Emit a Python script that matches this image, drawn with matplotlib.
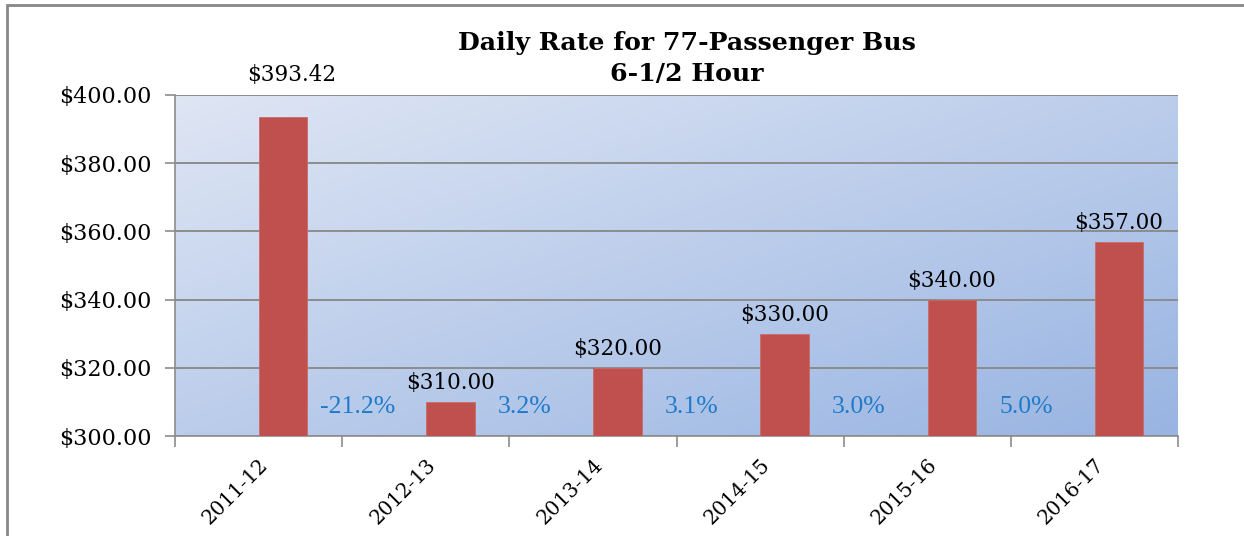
import numpy as np
import matplotlib
matplotlib.use('Agg')
import matplotlib.pyplot as plt
from matplotlib.colors import to_rgb
from matplotlib.patches import Rectangle

years = ['2011-12', '2012-13', '2013-14', '2014-15', '2015-16', '2016-17']
rates = [393.42, 310.00, 320.00, 330.00, 340.00, 357.00]
changes = ['-21.2%', '3.2%', '3.1%', '3.0%', '5.0%']

fig = plt.figure(figsize=(12.44, 5.36), dpi=100)
ax = fig.add_axes([175/1244, 100/536, 1003/1244, 341/536])

# chart frame, runs off the right and bottom edges
fig.patches.append(Rectangle((7/1244, -0.1), 1.2, 1 - 5/536 + 0.1, transform=fig.transFigure,
                             fill=False, edgecolor='#878787', linewidth=2))

# diagonal gradient fill of the plot area: light top-left, darker bottom-right
c0 = np.array(to_rgb('#DFE6F4'))
c1 = np.array(to_rgb('#98B4E2'))
n = 200
u = np.linspace(0, 1, n)
gx, gy = np.meshgrid(u, u)
t = (gx + gy) / 2
img = c0 + (c1 - c0) * t[..., None]
ax.imshow(img, extent=(-0.5, 5.5, 300, 400), origin='upper', aspect='auto', zorder=0,
          interpolation='bilinear')

x = np.arange(len(years))
ax.bar(x + 0.147, rates, width=0.29, bottom=0, color='#C0504D', edgecolor='#C86A67',
       linewidth=0.6, zorder=3)

ax.set_xlim(-0.5, 5.5)
ax.set_ylim(300, 400)
ax.set_yticks(np.arange(300, 401, 20))
ax.set_yticklabels(['$%.2f' % v for v in np.arange(300, 401, 20)], fontsize=16,
                   family='DejaVu Serif')
ax.yaxis.grid(True, color='#8C8C8C', linewidth=1.4, zorder=1)
ax.set_axisbelow(True)

ax.set_xticks(np.arange(-0.5, 6, 1))
ax.set_xticklabels([])
ax.set_xticks(x, minor=True)
ax.set_xticklabels(years, minor=True, rotation=45, ha='right', va='top',
                   rotation_mode='anchor', fontsize=14.5, family='DejaVu Serif')
ax.tick_params(axis='x', which='minor', length=0, pad=14)
ax.tick_params(axis='x', which='major', length=8, color='#8C8C8C', width=1.2)
ax.tick_params(axis='y', length=7, color='#8C8C8C', width=1.2, pad=10)

for s in ['top', 'right']:
    ax.spines[s].set_visible(False)
for s in ['left', 'bottom']:
    ax.spines[s].set_color('#8C8C8C')
    ax.spines[s].set_linewidth(1.2)

# value labels above the bars
for i, v in enumerate(rates):
    yl = v + 5.5 if i > 0 else 405.8
    ax.text(i + 0.147 + (0.05 if i == 0 else 0), yl, '$%.2f' % v, ha='center', va='center',
            fontsize=15.5, family='DejaVu Serif', clip_on=False, zorder=4)

# year-over-year change between bars
for i, c in enumerate(changes):
    ax.text(i + 1 - 0.41, 308.6, c, ha='center', va='center', fontsize=18.5,
            family='Liberation Serif', color='#1F7BC9', zorder=4)

fig.text(687/1244, 1 - 43/536, 'Daily Rate for 77-Passenger Bus', ha='center', va='center',
         fontsize=18.2, fontweight='bold', family='DejaVu Serif')
fig.text(687/1244, 1 - 74/536, '6-1/2 Hour', ha='center', va='center',
         fontsize=18.2, fontweight='bold', family='DejaVu Serif')

fig.savefig('out.png', dpi=100)
